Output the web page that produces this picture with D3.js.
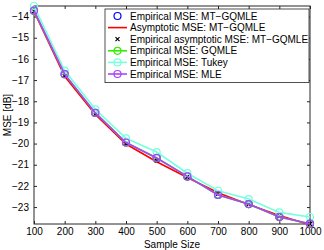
<!DOCTYPE html>
<html>
<head>
<meta charset="utf-8">
<script src="https://cdn.jsdelivr.net/npm/d3@7"></script>
<style>
  body { margin: 0; background: #fff; }
  svg { display: block; font-family: "Liberation Sans", Arial, sans-serif; }
</style>
</head>
<body>
<div id="chart"></div>
<script>
// --- Data ---
const sampleSizes = [100, 200, 300, 400, 500, 600, 700, 800, 900, 1000];
const empMtGqmle = [-13.72, -16.72, -18.55, -19.95, -20.7, -21.56, -22.42, -22.86, -23.46, -23.78];
const asympMtGqmle = [-13.76, -16.82, -18.62, -20.02, -20.86, -21.6, -22.32, -22.88, -23.4, -23.84];
const empAsympMtGqmle = [-13.74, -16.8, -18.6, -20.0, -20.8, -21.58, -22.38, -22.86, -23.44, -23.8];
const empGqmle = [-13.72, -16.72, -18.55, -19.95, -20.68, -21.55, -22.43, -22.86, -23.47, -23.79];
const empTukey = [-13.5, -16.55, -18.38, -19.75, -20.4, -21.4, -22.23, -22.62, -23.25, -23.47];
const empMle = [-13.72, -16.72, -18.55, -19.95, -20.68, -21.55, -22.43, -22.86, -23.47, -23.79];
const yTicks = [-23, -22, -21, -20, -19, -18, -17, -16, -15, -14];

const width = 324, height = 250;
const margin = { left: 34, right: 14, top: 6, bottom: 26 };

const svg = d3.select("#chart").append("svg")
    .attr("width", width)
    .attr("height", height);

const x = d3.scaleLinear().domain([100, 1000]).range([margin.left, width - margin.right]);
const y = d3.scaleLinear().domain([-23.8, -13.5]).range([height - margin.bottom, margin.top]);

const axisColor = "#262626";

// box
svg.append("rect")
    .attr("x", x.range()[0]).attr("y", y.range()[1])
    .attr("width", x.range()[1] - x.range()[0])
    .attr("height", y.range()[0] - y.range()[1])
    .attr("fill", "none").attr("stroke", axisColor).attr("stroke-width", 1);

// axes, ticks pointing inward like MATLAB
const bottomAxis = d3.axisBottom(x).tickValues(sampleSizes).tickSize(-3).tickPadding(4)
    .tickFormat(d3.format("d"));
const topAxis = d3.axisTop(x).tickValues(sampleSizes).tickSize(-3).tickFormat("");
const leftAxis = d3.axisLeft(y).tickValues(yTicks).tickSize(-3).tickPadding(5)
    .tickFormat(d => d3.format("d")(d).replace("-", "\u2212"));
const rightAxis = d3.axisRight(y).tickValues(yTicks).tickSize(-3).tickFormat("");

function styleAxis(g) {
    g.select(".domain").remove();
    g.selectAll("line").attr("stroke", axisColor);
    g.selectAll("text").attr("fill", "#000").style("font-size", "10px")
        .style("font-family", "'Liberation Sans', Arial, sans-serif");
}

svg.append("g").attr("transform", `translate(0,${y.range()[0]})`).call(bottomAxis).call(styleAxis);
svg.append("g").attr("transform", `translate(0,${y.range()[1]})`).call(topAxis).call(styleAxis);
svg.append("g").attr("transform", `translate(${x.range()[0]},0)`).call(leftAxis).call(styleAxis);
svg.append("g").attr("transform", `translate(${x.range()[1]},0)`).call(rightAxis).call(styleAxis);

// labels
svg.append("text")
    .attr("x", (x.range()[0] + x.range()[1]) / 2).attr("y", 247.5)
    .attr("text-anchor", "middle").style("font-size", "10px")
    .text("Sample Size");
svg.append("text")
    .attr("transform", `translate(11,${(y.range()[0] + y.range()[1]) / 2}) rotate(-90)`)
    .attr("text-anchor", "middle").style("font-size", "10px")
    .text("MSE [dB]");

// series
const series = [
    { name: "Empirical MSE: MT\u2212GQMLE", values: empMtGqmle, color: "#0000ff", line: false, marker: "circle" },
    { name: "Asymptotic MSE: MT\u2212GQMLE", values: asympMtGqmle, color: "#ff0000", line: true, marker: null },
    { name: "Empirical asymptotic MSE: MT\u2212GQMLE", values: empAsympMtGqmle, color: "#000000", line: false, marker: "x" },
    { name: "Empirical MSE: GQMLE", values: empGqmle, color: "#33ee00", line: true, marker: "circle" },
    { name: "Empirical MSE: Tukey", values: empTukey, color: "#77ffdd", line: true, marker: "circle" },
    { name: "Empirical MSE: MLE", values: empMle, color: "#aa44ff", line: true, marker: "circle" }
];

const lineGen = d3.line().x((d, i) => x(sampleSizes[i])).y(d => y(d));

function drawMarker(g, type, cx, cy, color) {
    if (type === "circle") {
        g.append("circle").attr("cx", cx).attr("cy", cy).attr("r", 3.5)
            .attr("fill", "none").attr("stroke", color).attr("stroke-width", 1.2);
    } else if (type === "x") {
        const s = 2;
        g.append("path")
            .attr("d", `M${cx - s},${cy - s}L${cx + s},${cy + s}M${cx - s},${cy + s}L${cx + s},${cy - s}`)
            .attr("stroke", color).attr("stroke-width", 1.2);
    }
}

const plot = svg.append("g");
series.forEach(s => {
    const g = plot.append("g");
    if (s.line) {
        g.append("path").datum(s.values)
            .attr("d", lineGen)
            .attr("fill", "none").attr("stroke", s.color).attr("stroke-width", 1.6);
    }
    if (s.marker) {
        s.values.forEach((v, i) => drawMarker(g, s.marker, x(sampleSizes[i]), y(v), s.color));
    }
});

// legend
const legend = svg.append("g");
const lx = 105, ly = 9, lw = 204, rowH = 11.6;
legend.append("rect")
    .attr("x", lx).attr("y", ly).attr("width", lw).attr("height", rowH * series.length + 4)
    .attr("fill", "#fff").attr("stroke", axisColor).attr("stroke-width", 0.8);
series.forEach((s, i) => {
    const cy = ly + 7 + i * rowH;
    if (s.line) {
        legend.append("line").attr("x1", lx + 3).attr("x2", lx + 22).attr("y1", cy).attr("y2", cy)
            .attr("stroke", s.color).attr("stroke-width", 1.6);
    }
    if (s.marker) drawMarker(legend, s.marker, lx + 12.5, cy, s.color);
    legend.append("text")
        .attr("x", lx + 25).attr("y", cy + 3.5)
        .style("font-size", "10px").text(s.name);
});
</script>
</body>
</html>
